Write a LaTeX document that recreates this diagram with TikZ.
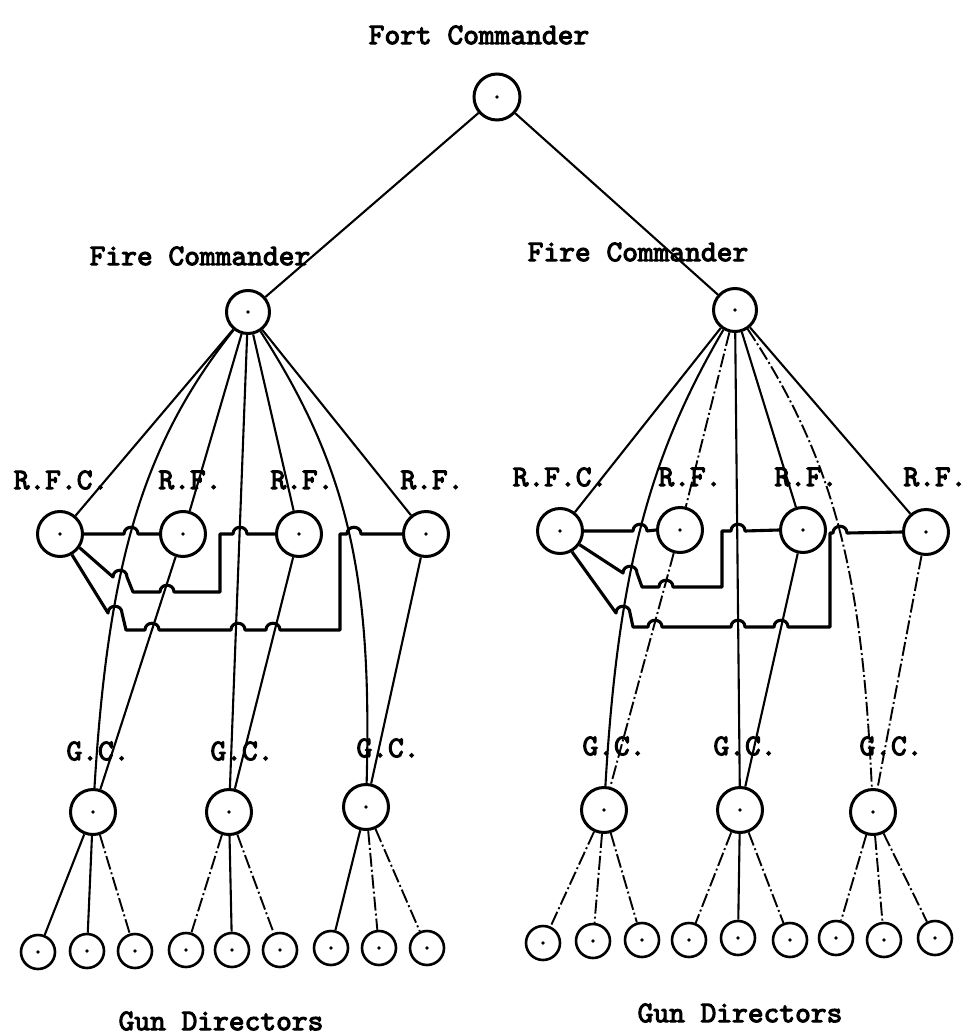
\documentclass[tikz,border=0pt]{standalone}
\usepackage{fontspec}
\newfontfamily\twfont{lmmono10-regular.otf}[FakeBold=3.5]
\newcommand\lbfont{\fontsize{30}{30}\selectfont\twfont}
\tikzset{
  pers/.style={circle, draw, line width=3pt, minimum size=45pt, inner sep=0pt},
  gdir/.style={circle, draw, line width=2.6pt, minimum size=34pt, inner sep=0pt},
  lbl/.style={font=\lbfont, inner sep=0pt, anchor=center},
  ln/.style={line width=2.1pt},
  brk/.style={line width=1.9pt, dash pattern=on 14pt off 3pt on 2pt off 3pt},
  bus/.style={line width=3.1pt, line join=round},
}
\begin{document}
\begin{tikzpicture}[x=1pt,y=-1pt]
\useasboundingbox (0,0) rectangle (968,1035);
% ---------- persons ----------
\node[pers, minimum size=46pt] (fort) at (497,97) {};
\node[pers, minimum size=43pt] (fcL) at (248,312) {};
\node[pers, minimum size=43pt] (fcR) at (735,310) {};
\node[pers] (rfcL) at (60,534) {};
\node[pers] (rf1L) at (183,534) {};
\node[pers] (rf2L) at (299,534) {};
\node[pers] (rf3L) at (426,534) {};
\node[pers] (rfcR) at (560,531) {};
\node[pers] (rf1R) at (680,530) {};
\node[pers] (rf2R) at (803,530) {};
\node[pers] (rf3R) at (926,532) {};
\node[pers] (gc1L) at (93,812) {};
\node[pers] (gc2L) at (229,812) {};
\node[pers] (gc3L) at (366,807) {};
\node[pers] (gc1R) at (604,810) {};
\node[pers] (gc2R) at (740,810) {};
\node[pers] (gc3R) at (873,812) {};
\node[gdir] (d1) at (38,952) {};
\node[gdir] (d2) at (87,951) {};
\node[gdir] (d3) at (135,951) {};
\node[gdir] (d4) at (186,950) {};
\node[gdir] (d5) at (232,950) {};
\node[gdir] (d6) at (280,950) {};
\node[gdir] (d7) at (331,948) {};
\node[gdir] (d8) at (379,948) {};
\node[gdir] (d9) at (427,948) {};
\node[gdir] (e1) at (543,943) {};
\node[gdir] (e2) at (593,941) {};
\node[gdir] (e3) at (642,940) {};
\node[gdir] (e4) at (689,940) {};
\node[gdir] (e5) at (738,938) {};
\node[gdir] (e6) at (790,940) {};
\node[gdir] (e7) at (836,938) {};
\node[gdir] (e8) at (884,940) {};
\node[gdir] (e9) at (935,938) {};
\foreach \n in {fort,fcL,fcR,rfcL,rf1L,rf2L,rf3L,rfcR,rf1R,rf2R,rf3R,gc1L,gc2L,gc3L,gc1R,gc2R,gc3R,d1,d2,d3,d4,d5,d6,d7,d8,d9,e1,e2,e3,e4,e5,e6,e7,e8,e9}
  \fill (\n) circle[radius=1.8pt];
% ---------- labels ----------
\node[lbl] (tFort) at (479,35) {Fort Commander};
\node[lbl] (tFcL) at (200,256) {Fire Commander};
\node[lbl] (tFcR) at (638,252) {Fire Commander};
\node[lbl] (tRfcL) at (61,480) {R.F.C.};
\node[lbl] (tRf1L) at (190,480) {R.F.};
\node[lbl] (tRf2L) at (302,480) {R.F.};
\node[lbl] (tRf3L) at (432,480) {R.F.};
\node[lbl] (tRfcR) at (560,477) {R.F.C.};
\node[lbl] (tRf1R) at (690,477) {R.F.};
\node[lbl] (tRf2R) at (806,477) {R.F.};
\node[lbl] (tRf3R) at (935,477) {R.F.};
\node[lbl] (tGc1L) at (98,751) {G.C.};
\node[lbl] (tGc2L) at (242,751) {G.C.};
\node[lbl] (tGc3L) at (388,748) {G.C.};
\node[lbl] (tGc1R) at (614,746) {G.C.};
\node[lbl] (tGc2R) at (745,746) {G.C.};
\node[lbl] (tGc3R) at (891,746) {G.C.};
\node[lbl] (tGdL) at (221,1021) {Gun Directors};
\node[lbl] (tGdR) at (740,1013) {Gun Directors};
% ---------- top ----------
\draw[ln] (fort) -- (fcL);
\draw[ln] (fort) -- (fcR);
% ---------- left group ----------
\draw[ln] (fcL) -- (rfcL);
\draw[ln] (fcL) .. controls (142,445) and (108,565) .. (gc1L);
\draw[ln] (fcL) -- (rf1L);
\draw[ln] (fcL) -- (gc2L);
\draw[ln] (fcL) -- (rf2L);
\draw[ln] (fcL) .. controls (350,470) and (372,580) .. (gc3L);
\draw[ln] (fcL) -- (rf3L);
\draw[ln] (rf1L) -- (gc1L);
\draw[ln] (rf2L) -- (gc2L);
\draw[ln] (rf3L) -- (gc3L);
\draw[bus] (rfcL.east) -- (124,534) .. controls (124,525) and (138,525) .. (138,534) -- (rf1L.west);
\draw[bus] (rfcL.-35) -- (113,577) .. controls (113,568) and (127,568) .. (127,577) -- (133,592)
   -- (160,592) .. controls (160,583) and (174,583) .. (174,592) -- (220,592) -- (220,534)
   -- (233,534) .. controls (233,525) and (247,525) .. (247,534) -- (rf2L.west);
\draw[bus] (rfcL.-60) -- (108,613) .. controls (108,604) and (122,604) .. (122,613) -- (126,630)
   -- (145,630) .. controls (145,621) and (159,621) .. (159,630)
   -- (231,630) .. controls (231,621) and (245,621) .. (245,630)
   -- (266,630) .. controls (266,621) and (280,621) .. (280,630)
   -- (340,630) -- (340,534)
   -- (347,534) .. controls (347,525) and (361,525) .. (361,534) -- (rf3L.west);
\draw[ln] (gc1L) -- (d1);
\draw[ln] (gc1L) -- (d2);
\draw[brk] (gc1L) -- (d3);
\draw[brk] (gc2L) -- (d4);
\draw[ln] (gc2L) -- (d5);
\draw[brk] (gc2L) -- (d6);
\draw[ln] (gc3L) -- (d7);
\draw[brk] (gc3L) -- (d8);
\draw[brk] (gc3L) -- (d9);
% ---------- right group ----------
\draw[ln] (fcR) -- (rfcR);
\draw[ln] (fcR) .. controls (650,455) and (618,570) .. (gc1R);
\draw[brk] (fcR) -- (rf1R);
\draw[ln] (fcR) -- (gc2R);
\draw[ln] (fcR) -- (rf2R);
\draw[brk] (fcR) .. controls (838,465) and (862,580) .. (gc3R);
\draw[ln] (fcR) -- (rf3R);
\draw[brk] (rf1R) -- (gc1R);
\draw[ln] (rf2R) -- (gc2R);
\draw[brk] (rf3R) -- (gc3R);
\draw[bus] (rfcR.east) -- (633,531) .. controls (633,522) and (647,522) .. (647,531) -- (rf1R.west);
\draw[bus] (rfcR.-35) -- (623,573) .. controls (623,564) and (637,564) .. (637,573) -- (642,587)
   -- (659,587) .. controls (659,578) and (673,578) .. (673,587) -- (722,587) -- (722,531)
   -- (731,531) .. controls (731,522) and (745,522) .. (745,531) -- (rf2R.west);
\draw[bus] (rfcR.-60) -- (616,613) .. controls (616,604) and (630,604) .. (630,613) -- (633,627)
   -- (648,627) .. controls (648,618) and (662,618) .. (662,627)
   -- (731,627) .. controls (731,618) and (745,618) .. (745,627)
   -- (774,627) .. controls (774,618) and (788,618) .. (788,627)
   -- (830,627) -- (830,533)
   -- (833,533) .. controls (833,524) and (847,524) .. (847,533) -- (rf3R.west);
\draw[brk] (gc1R) -- (e1);
\draw[brk] (gc1R) -- (e2);
\draw[brk] (gc1R) -- (e3);
\draw[brk] (gc2R) -- (e4);
\draw[ln] (gc2R) -- (e5);
\draw[brk] (gc2R) -- (e6);
\draw[brk] (gc3R) -- (e7);
\draw[brk] (gc3R) -- (e8);
\draw[brk] (gc3R) -- (e9);
\end{tikzpicture}
\end{document}
